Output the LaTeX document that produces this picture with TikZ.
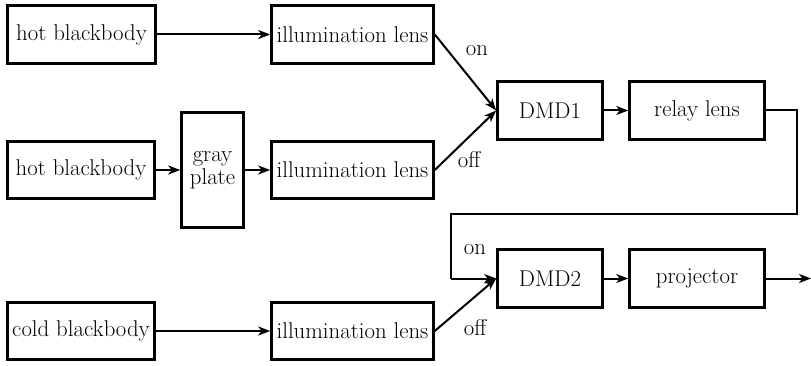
\documentclass[tikz,border=0pt]{standalone}
\usetikzlibrary{arrows.meta}
\begin{document}
\begin{tikzpicture}[x=1pt,y=-1pt,
  blk/.style={draw,line width=2.6pt,inner sep=0pt,align=center,
    font=\fontsize{22.8}{23}\selectfont},
  lbl/.style={inner sep=0pt,font=\fontsize{22.8}{23}\selectfont},
  flow/.style={line width=2pt,-{Stealth[length=12pt,width=9pt,inset=3.5pt]}},
  wire/.style={line width=2pt}]
\useasboundingbox (0,0) rectangle (811,366);
% sources and optics
\node[blk,minimum width=148pt,minimum height=58pt] (hb1) at (81.5,34.5) {hot blackbody};
\node[blk,minimum width=162pt,minimum height=58pt] (il1) at (352.5,34.5) {illumination lens};
\node[blk,minimum width=147pt,minimum height=57pt] (hb2) at (81,170) {hot blackbody};
\node[blk,minimum width=62pt,minimum height=115pt] (gp) at (212.5,170) {gray\\[0pt]plate};
\node[blk,minimum width=162pt,minimum height=57pt] (il2) at (352.5,170) {illumination lens};
\node[blk,minimum width=147pt,minimum height=57pt] (cb) at (81,331) {cold blackbody};
\node[blk,minimum width=162pt,minimum height=57pt] (il3) at (352.5,331) {illumination lens};
% modulators and output
\node[blk,minimum width=105pt,minimum height=58pt] (dmd1) at (550,110.5) {DMD1};
\node[blk,minimum width=135pt,minimum height=58pt] (relay) at (697,110.5) {relay lens};
\node[blk,minimum width=105pt,minimum height=58pt] (dmd2) at (550,278.5) {DMD2};
\node[blk,minimum width=135pt,minimum height=58pt] (proj) at (697,278.5) {projector};
% routing points
\coordinate (r1) at (797,110.5);
\coordinate (r2) at (797,214);
\coordinate (r3) at (451,214);
\coordinate (r4) at (451,278.5);
\coordinate (out) at (811,278.5);
% connectors
\draw[flow] (hb1) -- (il1);
\draw[flow] (hb2) -- (gp.west |- hb2.east);
\draw[flow] (gp.east |- il2.west) -- (il2);
\draw[flow] (cb) -- (il3);
\draw[flow] (il1.east) -- (dmd1.west);
\draw[flow] (il2.east) -- (dmd1.west);
\draw[flow] (dmd1) -- (relay);
\draw[wire] (relay.east) -- (r1) -- (r2) -- (r3) -- (r4);
\draw[flow] (r4) -- (dmd2.west);
\draw[flow] (il3.east) -- (dmd2.west);
\draw[flow] (dmd2) -- (proj);
\draw[flow] (proj) -- (out);
% mirror state labels
\node[lbl] (on1) at (477,51) {on};
\node[lbl] (off1) at (469,160) {off};
\node[lbl] (on2) at (475,250) {on};
\node[lbl] (off2) at (475,328) {off};
\end{tikzpicture}
\end{document}
